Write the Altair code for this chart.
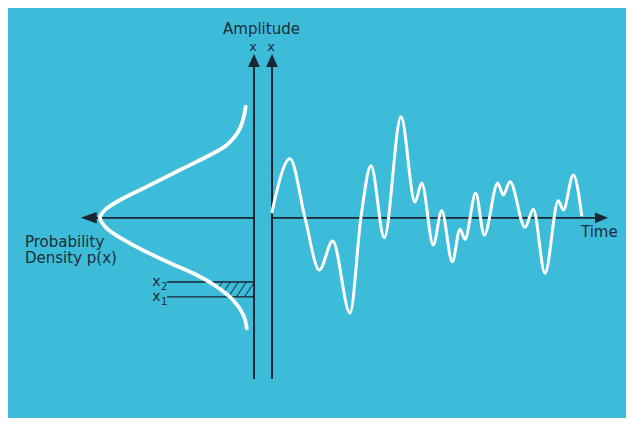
import altair as alt
import pandas as pd
import numpy as np

# ---------------- data ----------------
# random signal: time (arbitrary units) vs amplitude
wave_time = [0.0, 1.8, 3.3, 4.73, 6.07, 7.8, 8.9, 9.9, 11.23, 12.9, 14.3, 14.97, 16.13,
             16.97, 18.03, 18.8, 19.3, 20.37, 21.23, 22.57, 23.13, 23.8, 25.3, 26.13,
             27.3, 28.63, 29.13, 30.13, 30.97]
wave_amp = [0.6, 5.9, 0.0, -5.22, -2.32, -9.52, 0.08, 5.21, -1.99, 10.11, 1.58, 3.48, -2.72,
            0.71, -4.39, -1.15, -2.15, 2.45, -1.72, 3.45, 2.28, 3.61, -0.95, 0.85,
            -5.55, 1.71, 0.78, 4.28, 0.28]

# probability density curve: amplitude vs density p(x)
dens_amp = [11.11, 8.95, 7.28, 6.28, 4.78, 3.11, 1.78, 0.78, 0.0, -1.05, -2.55, -4.22,
            -5.72, -6.89, -8.22, -9.72, -11.05]
dens_val = [0.0054, 0.0091, 0.0177, 0.0286, 0.0481, 0.0697, 0.0870, 0.0968, 0.1000,
            0.0956, 0.0805, 0.0589, 0.0372, 0.0242, 0.0136, 0.0069, 0.0047]

# amplitude levels x2 and x1
level_name = ["x", "x"]
level_sub = ["2", "1"]
level_amp = [-6.42, -7.9]

# ---------------- layout ----------------
W, H = 618, 410
BG = "#3cbcd8"
INK = "#1b2633"
TXT = "#1d2c3b"
FONT = "DejaVu Sans"

AMP_PX, AMP_ZERO = 10.0, 209.8      # px per amplitude unit, chart y of amplitude 0
TIME_PX, TIME_ZERO = 10.0, 264.0    # px per time unit, chart x of time 0
DENS_PX, DENS_ZERO = 1540.0, 246.0  # px per density unit, chart x of density 0

amp_dom = [(AMP_ZERO - H) / AMP_PX, AMP_ZERO / AMP_PX]
time_dom = [-TIME_ZERO / TIME_PX, (W - TIME_ZERO) / TIME_PX]
dens_dom = [(DENS_ZERO - W) / DENS_PX, DENS_ZERO / DENS_PX]

yS = alt.Scale(domain=amp_dom, nice=False, zero=False)
xT = alt.Scale(domain=time_dom, nice=False, zero=False)
xD = alt.Scale(domain=dens_dom, nice=False, zero=False, reverse=True)

def Y(f):
    return alt.Y(f"{f}:Q", scale=yS, axis=None)

def XT(f):
    return alt.X(f"{f}:Q", scale=xT, axis=None)

def XD(f):
    return alt.X(f"{f}:Q", scale=xD, axis=None)

AX_TOP, AX_BOT = 15.4, -16.12     # vertical axes extent (amplitude units)
ARROW_TOP = 16.38
TIME_END, TIME_TIP = 32.5, 33.6
DENS_END, DENS_TIP = 0.104, 0.1125

wave = pd.DataFrame({"t": wave_time, "a": wave_amp})
dens = pd.DataFrame({"d": dens_val, "a": dens_amp})
levels = pd.DataFrame({"name": level_name, "sub": level_sub, "a": level_amp})

# hatching between x1 and x2 under the density curve (derived from the data)
asc = np.argsort(dens_amp)
ca, cd = np.array(dens_amp)[asc], np.array(dens_val)[asc]
lo, hi = min(level_amp), max(level_amp)
step, shift = 8.0 / DENS_PX, 10.0 / DENS_PX
segs = []
ts = np.linspace(0, 1, 201)
for k in range(-3, 12):
    d_bot = k * step + 0.001
    d_top = d_bot - shift
    a = lo + (hi - lo) * ts
    d = d_bot + (d_top - d_bot) * ts
    c = np.interp(a, ca, cd)
    ok = np.where((d >= 0) & (d <= c))[0]
    if len(ok) > 1:
        i0, i1 = ok[0], ok[-1]
        segs.append({"d1": d[i0], "a1": a[i0], "d2": d[i1], "a2": a[i1]})
hatch = pd.DataFrame(segs)

layers = []

# hatch
layers.append(alt.Chart(hatch).mark_rule(color=INK, strokeWidth=1).encode(
    x=XD("d1"), x2="d2", y=Y("a1"), y2="a2"))

# level lines x2, x1
lev_lines = levels.assign(d0=0.0, d1=0.0565)
layers.append(alt.Chart(lev_lines).mark_rule(color=INK, strokeWidth=1.3).encode(
    x=XD("d1"), x2="d0", y=Y("a")))

# density axis (horizontal, leftwards)
layers.append(alt.Chart(pd.DataFrame({"d0": [0.0], "d1": [DENS_END], "a": [0.0]}))
              .mark_rule(color=INK, strokeWidth=1.8).encode(x=XD("d0"), x2="d1", y=Y("a")))
# vertical line at density 0
layers.append(alt.Chart(pd.DataFrame({"d": [0.0], "a0": [AX_BOT], "a1": [AX_TOP]}))
              .mark_rule(color=INK, strokeWidth=2).encode(x=XD("d"), y=Y("a0"), y2="a1"))
# time axis
layers.append(alt.Chart(pd.DataFrame({"t0": [0.0], "t1": [TIME_END], "a": [0.0]}))
              .mark_rule(color=INK, strokeWidth=1.8).encode(x=XT("t0"), x2="t1", y=Y("a")))
# vertical line at time 0
layers.append(alt.Chart(pd.DataFrame({"t": [0.0], "a0": [AX_BOT], "a1": [AX_TOP]}))
              .mark_rule(color=INK, strokeWidth=2).encode(x=XT("t"), y=Y("a0"), y2="a1"))

# density curve
layers.append(alt.Chart(dens).mark_line(color="white", strokeWidth=3.8,
                                        interpolate="catmull-rom", strokeCap="round").encode(
    x=XD("d"), y=Y("a"), order=alt.Order("a:Q")))

# signal
layers.append(alt.Chart(wave).mark_line(color="white", strokeWidth=3,
                                        interpolate="monotone", strokeCap="round").encode(
    x=XT("t"), y=Y("a")))

# arrow heads
UP = "M0,0 L-0.9,2 L0.9,2 Z"
LEFT = "M0,0 L2,-0.72 L2,0.72 Z"
RIGHT = "M0,0 L-2,-0.82 L-2,0.82 Z"
layers.append(alt.Chart(pd.DataFrame({"d": [0.0], "a": [ARROW_TOP]})).mark_point(
    shape=UP, size=169, filled=True, color=INK, opacity=1, strokeWidth=0).encode(x=XD("d"), y=Y("a")))
layers.append(alt.Chart(pd.DataFrame({"t": [0.0], "a": [ARROW_TOP]})).mark_point(
    shape=UP, size=169, filled=True, color=INK, opacity=1, strokeWidth=0).encode(x=XT("t"), y=Y("a")))
layers.append(alt.Chart(pd.DataFrame({"d": [DENS_TIP], "a": [0.0]})).mark_point(
    shape=LEFT, size=256, filled=True, color=INK, opacity=1, strokeWidth=0).encode(x=XD("d"), y=Y("a")))
layers.append(alt.Chart(pd.DataFrame({"t": [TIME_TIP], "a": [0.0]})).mark_point(
    shape=RIGHT, size=169, filled=True, color=INK, opacity=1, strokeWidth=0).encode(x=XT("t"), y=Y("a")))

# texts
layers.append(alt.Chart(pd.DataFrame({"t": [-1.05], "a": [18.38], "s": ["Amplitude"]}))
              .mark_text(font=FONT, color=TXT, align="center", baseline="alphabetic", fontSize=15)
              .encode(x=XT("t"), y=Y("a"), text="s:N"))
layers.append(alt.Chart(pd.DataFrame({"t": [-1.9, -0.1], "a": [16.73, 16.73], "s": ["x", "x"]}))
              .mark_text(font=FONT, color=TXT, align="center", baseline="alphabetic", fontSize=13)
              .encode(x=XT("t"), y=Y("a"), text="s:N"))
left_txt = pd.DataFrame({"t": [-24.7, -24.7, 30.9], "a": [-2.89, -4.55, -1.92],
                         "s": ["Probability", "Density p(x)", "Time"]})
layers.append(alt.Chart(left_txt).mark_text(font=FONT, color=TXT, align="left",
                                            baseline="alphabetic", fontSize=15).encode(
    x=XT("t"), y=Y("a"), text="s:N"))
# x2 / x1 labels: main letter plus a lowered, smaller digit
lab_main = levels.assign(t=-11.15, ab=[-6.77, -8.27])
layers.append(alt.Chart(lab_main).mark_text(font=FONT, color=TXT, align="right",
                                            baseline="alphabetic", fontSize=14).encode(
    x=XT("t"), y=Y("ab"), text="name:N"))
lab_sub = levels.assign(t=-11.1, ab=[-7.17, -8.67])
layers.append(alt.Chart(lab_sub).mark_text(font=FONT, color=TXT, align="left",
                                           baseline="alphabetic", fontSize=10).encode(
    x=XT("t"), y=Y("ab"), text="sub:N"))

chart = (alt.layer(*layers)
         .resolve_scale(x="independent")
         .properties(width=W, height=H, background=BG, padding=0)
         .configure_view(stroke=None))

chart.save("out.html", embed_options={"renderer": "svg", "actions": False})
